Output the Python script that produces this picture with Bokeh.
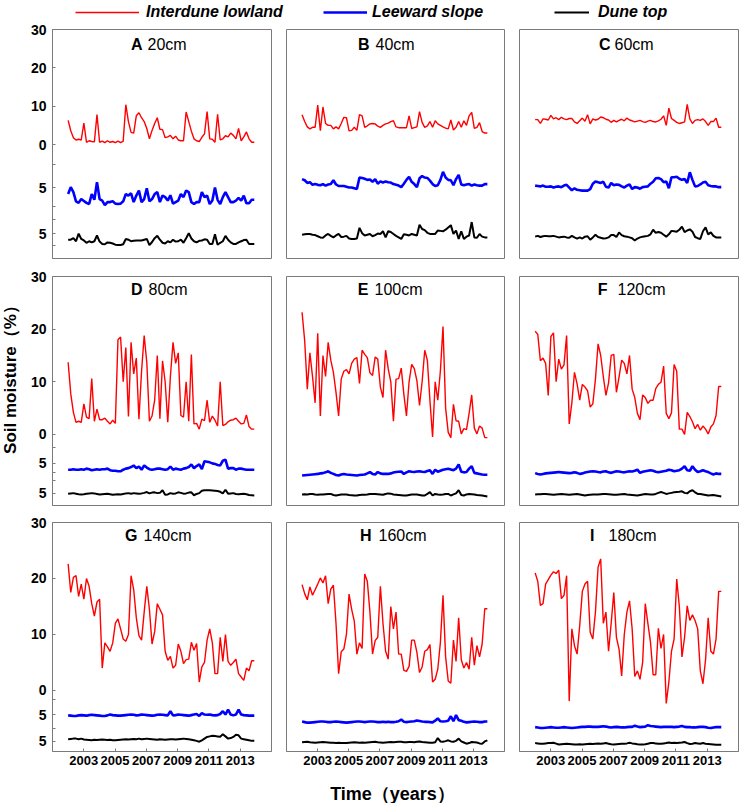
import numpy as np
from bokeh.plotting import figure
from bokeh.models import (Range1d, FixedTicker, CustomJSTickFormatter, Label,
                          Legend, LegendItem)
from bokeh.layouts import row, column
from bokeh.embed import file_html
from bokeh.resources import INLINE

# ---------------- data ----------------
first_year, last_year = 2002.0, 2013.9
year_ticks = [2003, 2005, 2007, 2009, 2011, 2013]
series_names = ["Interdune lowland", "Leeward slope", "Dune top"]
panel_letters = ["A", "B", "C", "D", "E", "F", "G", "H", "I"]
panel_depths = ["20cm", "40cm", "60cm", "80cm", "100cm", "120cm", "140cm", "160cm", "180cm"]

red_20 = [6.3, 3.6, 1.8, 1.2, 1.4, 1.2, 5.6, 0.6, 1.0, 0.8, 0.7, 7.8, 0.6, 0.9, 0.5, 1.0, 0.6, 0.8,
          0.5, 0.9, 0.5, 0.9, 10.4, 6.0, 3.2, 3.0, 7.5, 8.3, 7.0, 6.0, 4.2, 1.5, 3.7, 5.5, 7.0, 4.0,
          3.9, 1.8, 2.0, 2.4, 1.5, 2.2, 1.2, 1.0, 1.0, 8.5, 6.0, 3.5, 1.5, 1.0, 0.8, 1.9, 2.8, 8.6,
          1.5, 1.4, 0.6, 7.9, 1.2, 1.5, 2.3, 2.0, 3.0, 2.4, 1.5, 4.2, 1.0, 2.0, 3.3, 1.5, 0.6, 0.6]
blue_20 = [3.3, 5.1, 3.8, 1.4, 1.0, 2.0, 1.5, 1.0, 0.7, 3.3, 1.8, 6.4, 2.0, 1.6, 0.4, 1.2, 1.2, 1.4,
           0.8, 0.7, 0.8, 1.4, 3.3, 2.9, 3.5, 1.2, 2.9, 4.2, 1.2, 2.0, 4.8, 1.4, 2.0, 3.3, 3.8, 1.2,
           2.9, 2.5, 1.6, 3.0, 0.8, 1.2, 1.6, 3.3, 2.5, 4.2, 3.8, 1.2, 0.7, 1.2, 1.2, 3.8, 2.5, 2.9,
           0.7, 1.6, 5.0, 1.8, 0.7, 2.5, 3.8, 2.5, 1.2, 1.2, 1.6, 2.3, 1.6, 2.9, 0.9, 0.9, 1.8, 1.8]
black_20 = [3.4, 3.4, 3.8, 3.0, 5.0, 3.6, 3.2, 2.6, 3.0, 2.7, 3.0, 4.5, 2.9, 2.3, 2.2, 2.7, 2.6, 2.4,
            2.1, 2.0, 2.0, 2.2, 3.6, 3.4, 3.0, 3.1, 3.2, 3.2, 3.2, 3.4, 3.6, 2.0, 2.8, 3.8, 4.4, 3.4,
            2.6, 2.4, 3.0, 2.7, 3.4, 2.9, 3.0, 3.4, 2.6, 3.8, 5.1, 3.7, 3.0, 2.7, 3.1, 3.2, 3.5, 3.4,
            2.3, 2.3, 4.8, 2.1, 2.6, 3.0, 4.4, 3.4, 2.7, 2.3, 2.3, 2.7, 3.0, 3.3, 3.4, 2.3, 2.3, 2.3]

red_40 = [7.8, 6.0, 4.6, 4.1, 4.5, 4.5, 10.3, 3.6, 9.8, 5.5, 5.0, 5.0, 4.1, 4.6, 4.1, 5.5, 7.1, 7.0,
          3.6, 3.7, 4.5, 3.7, 7.8, 7.5, 4.5, 4.9, 5.4, 5.5, 5.4, 4.8, 4.5, 5.0, 5.4, 5.6, 6.0, 6.2,
          4.6, 4.4, 4.4, 4.4, 4.4, 7.5, 4.2, 4.4, 4.6, 8.6, 5.8, 4.5, 4.9, 6.0, 4.5, 6.2, 5.4, 5.0,
          4.6, 4.3, 4.1, 6.4, 3.8, 4.5, 6.0, 4.5, 6.2, 5.0, 7.5, 8.4, 4.2, 4.5, 5.7, 3.4, 3.0, 3.0]
blue_40 = [7.2, 6.9, 6.2, 6.4, 5.7, 5.9, 5.7, 5.6, 5.9, 5.5, 5.8, 5.9, 6.9, 5.8, 5.4, 5.4, 5.4, 5.2,
           5.0, 5.0, 4.8, 4.6, 7.6, 7.5, 7.3, 7.0, 7.1, 6.5, 7.2, 6.0, 6.6, 6.3, 6.6, 6.4, 6.3, 5.9,
           5.7, 5.5, 5.1, 6.0, 7.0, 7.8, 6.5, 5.9, 5.1, 7.4, 8.0, 7.6, 7.5, 6.8, 5.9, 5.4, 5.6, 7.0,
           9.1, 7.6, 7.0, 6.9, 5.6, 7.2, 8.3, 5.8, 5.6, 5.8, 5.9, 5.5, 5.8, 5.6, 5.5, 5.5, 5.9, 5.9]
black_40 = [4.7, 4.8, 4.9, 4.9, 4.7, 4.6, 4.3, 4.0, 3.9, 4.5, 4.9, 4.4, 4.0, 4.5, 4.9, 4.1, 4.2, 4.4,
            3.7, 3.6, 3.6, 3.7, 6.5, 5.1, 4.5, 4.7, 4.9, 4.3, 4.6, 5.0, 4.9, 5.6, 4.0, 5.6, 5.4, 4.9,
            4.4, 4.0, 3.6, 4.8, 4.7, 4.5, 4.9, 4.7, 4.5, 7.3, 6.2, 5.9, 5.2, 4.9, 4.9, 4.9, 5.8, 5.7,
            5.6, 6.0, 6.6, 7.2, 4.9, 5.8, 3.6, 5.6, 3.6, 4.2, 4.5, 8.0, 4.0, 3.9, 4.9, 4.2, 4.0, 4.0]

red_60 = [6.5, 6.5, 5.5, 6.7, 6.6, 6.4, 7.6, 6.7, 7.0, 6.5, 7.1, 6.7, 6.5, 6.8, 6.8, 5.9, 5.5, 6.2,
          6.9, 6.1, 7.8, 5.4, 6.7, 6.4, 6.6, 7.2, 7.0, 6.6, 6.4, 5.8, 6.3, 5.9, 6.3, 6.6, 6.2, 6.9,
          6.4, 6.2, 5.9, 6.1, 6.3, 6.0, 5.8, 6.1, 6.3, 6.0, 5.9, 6.2, 6.6, 7.5, 5.0, 9.5, 6.8, 6.3,
          5.8, 5.5, 5.7, 5.9, 10.5, 6.7, 5.5, 6.3, 6.5, 6.3, 6.7, 6.0, 5.0, 6.0, 6.0, 6.9, 4.5, 4.5]
blue_60 = [5.5, 5.4, 5.3, 5.5, 5.2, 5.2, 5.3, 5.0, 5.2, 5.3, 5.1, 5.5, 5.7, 5.0, 4.3, 4.8, 4.4, 4.3,
           4.2, 4.2, 4.2, 4.6, 6.0, 6.6, 6.4, 6.2, 6.5, 5.2, 5.0, 6.2, 5.6, 5.8, 5.7, 5.3, 5.0, 5.5,
           5.8, 4.6, 5.1, 5.0, 4.7, 5.1, 5.2, 5.3, 6.0, 6.5, 7.4, 7.5, 7.2, 6.4, 6.6, 4.8, 7.7, 7.7,
           7.8, 7.3, 7.0, 7.2, 6.2, 9.0, 7.0, 5.3, 5.4, 5.8, 6.3, 6.5, 5.6, 5.4, 5.3, 5.3, 5.1, 5.1]
black_60 = [4.2, 4.4, 4.1, 4.3, 4.4, 4.3, 4.3, 4.4, 4.2, 4.0, 4.1, 4.2, 4.0, 3.9, 4.4, 4.0, 3.7, 4.0,
            3.7, 4.2, 4.3, 3.4, 4.0, 4.7, 4.1, 3.9, 3.7, 3.8, 4.0, 4.6, 4.6, 4.1, 5.3, 4.6, 4.3, 4.2,
            4.0, 3.8, 3.2, 3.7, 4.0, 4.2, 4.3, 4.4, 4.8, 6.0, 5.2, 5.4, 5.2, 4.7, 4.2, 4.8, 5.7, 5.6,
            5.5, 6.0, 6.8, 5.4, 5.8, 6.1, 5.5, 4.1, 3.8, 3.6, 5.6, 6.6, 4.8, 5.3, 4.4, 4.0, 4.0, 4.0]

red_80 = [13.7, 7.7, 4.2, 2.3, 2.5, 2.3, 5.8, 3.3, 3.0, 10.6, 2.5, 4.8, 2.8, 2.8, 3.1, 2.5, 2.0, 2.7,
          2.1, 18.0, 18.5, 10.0, 16.5, 3.4, 17.5, 11.5, 14.5, 2.9, 12.0, 18.8, 13.7, 2.5, 3.5, 6.5,
          15.0, 3.0, 14.0, 10.0, 2.3, 11.0, 17.5, 13.5, 15.5, 3.6, 3.3, 10.0, 2.5, 15.2, 2.0, 2.1,
          1.0, 2.9, 2.6, 6.5, 2.3, 3.5, 2.7, 1.6, 10.0, 1.7, 1.9, 2.4, 2.7, 2.8, 3.1, 2.5, 2.0, 2.1,
          3.7, 1.5, 1.0, 1.0]
blue_80 = [3.8, 3.8, 3.9, 3.8, 3.8, 3.9, 3.8, 4.0, 3.9, 3.7, 3.8, 3.9, 3.8, 3.9, 3.9, 4.0, 3.7, 3.6,
           3.6, 3.5, 3.5, 3.8, 4.0, 4.1, 4.3, 4.6, 4.1, 4.4, 3.8, 4.6, 4.2, 3.9, 3.8, 3.9, 4.0, 4.0,
           3.9, 3.8, 3.9, 4.4, 3.8, 4.0, 3.9, 3.8, 4.0, 4.1, 4.3, 4.8, 4.1, 4.5, 4.8, 3.9, 5.4, 5.3,
           5.2, 5.0, 4.9, 4.7, 4.6, 5.5, 5.7, 4.0, 4.1, 4.1, 3.8, 4.0, 4.0, 3.9, 3.8, 3.8, 3.8, 3.8]
black_80 = [4.95, 5.0, 5.05, 4.95, 4.85, 4.8, 4.85, 4.95, 5.0, 5.05, 5.0, 4.9, 4.8, 4.85, 4.9, 4.95,
            4.85, 4.75, 4.8, 4.85, 4.8, 4.9, 5.0, 5.05, 4.95, 5.05, 5.0, 4.95, 5.0, 5.1, 5.25, 5.0,
            5.15, 5.2, 5.05, 5.1, 5.6, 4.75, 4.8, 5.05, 4.95, 5.0, 5.2, 5.1, 4.95, 5.0, 5.15, 5.2,
            4.65, 4.9, 5.05, 5.5, 5.6, 5.6, 5.6, 5.55, 5.5, 5.45, 5.3, 5.0, 5.7, 4.95, 5.0, 5.05,
            4.9, 4.85, 4.9, 4.95, 4.85, 4.7, 4.65, 4.6]

red_100 = [23.2, 17.8, 8.6, 15.5, 11.0, 6.0, 19.2, 3.5, 15.0, 11.0, 17.5, 14.1, 11.8, 8.0, 3.5, 10.5,
           12.0, 12.3, 11.5, 13.5, 14.3, 14.6, 9.7, 16.0, 15.2, 14.6, 11.7, 11.2, 14.7, 14.3, 9.0,
           7.0, 16.0, 12.5, 10.0, 2.5, 10.5, 10.6, 12.6, 7.6, 3.5, 10.0, 13.3, 12.5, 10.2, 5.5, 10.0,
           16.0, 14.1, 6.4, -0.5, 10.0, 6.5, 12.1, 20.5, 5.0, 0.4, -0.6, 5.7, 2.6, 2.5, 0.1, 1.1,
           0.9, 4.0, 7.5, 1.2, 0.1, 1.6, 1.2, -0.6, -0.6]
blue_100 = [2.7, 2.75, 2.8, 2.85, 2.9, 2.95, 3.0, 3.1, 3.15, 3.3, 3.5, 3.2, 3.0, 2.8, 2.7, 2.9, 3.0,
            2.9, 2.85, 2.8, 2.75, 2.7, 2.8, 2.85, 2.9, 3.1, 3.35, 3.0, 2.9, 3.35, 3.1, 3.0, 3.0, 3.0,
            3.1, 3.25, 3.35, 3.4, 3.45, 3.0, 3.3, 3.5, 3.4, 3.35, 3.45, 3.5, 3.4, 3.35, 3.55, 3.7,
            3.0, 3.8, 3.4, 3.6, 3.8, 3.9, 4.0, 3.85, 3.7, 4.0, 4.8, 3.4, 3.3, 3.35, 4.0, 4.45, 3.2,
            3.1, 3.0, 2.9, 2.85, 2.85]
black_100 = [4.8, 4.85, 4.8, 4.9, 4.9, 4.8, 4.75, 4.8, 4.8, 4.85, 4.9, 4.9, 4.7, 4.6, 4.7, 4.8, 4.8,
             4.8, 4.7, 4.65, 4.6, 4.6, 4.7, 4.75, 4.75, 4.8, 4.9, 4.9, 4.9, 4.85, 4.8, 4.75, 4.9,
             5.0, 4.95, 4.8, 4.75, 4.7, 4.65, 4.6, 4.6, 4.7, 4.8, 4.8, 4.8, 4.7, 4.6, 4.6, 4.9,
             5.25, 4.6, 4.9, 4.8, 4.75, 4.8, 4.9, 4.9, 4.6, 4.8, 5.0, 5.6, 4.7, 4.6, 4.8, 4.9, 4.85,
             4.8, 4.7, 4.65, 4.6, 4.5, 4.4]

red_120 = [19.6, 19.0, 14.0, 14.5, 13.5, 7.4, 18.6, 19.3, 10.0, 14.3, 12.4, 13.2, 18.8, 2.0, 6.0,
           11.8, 9.6, 6.5, 9.5, 9.0, 8.3, 5.2, 5.8, 10.5, 17.2, 15.0, 11.0, 7.4, 9.8, 15.0, 15.2,
           8.0, 10.9, 14.1, 13.5, 11.5, 15.0, 8.6, 7.0, 4.0, 2.8, 7.5, 7.0, 5.9, 6.5, 6.5, 8.7, 9.5,
           9.9, 13.0, 4.0, 3.0, 4.1, 13.3, 12.0, 1.0, 1.0, 0.0, 4.2, 3.4, 2.4, 1.1, 1.9, 0.8, 1.6,
           1.0, 0.1, 1.4, 2.0, 3.6, 9.1, 9.1]
blue_120 = [3.15, 3.0, 2.9, 3.0, 3.1, 3.15, 3.2, 3.25, 3.3, 3.35, 3.3, 3.25, 3.2, 3.15, 3.2, 3.3,
            3.2, 3.0, 3.1, 3.25, 3.35, 3.45, 3.5, 3.45, 3.35, 3.3, 3.45, 3.5, 3.3, 3.2, 3.35, 3.5,
            3.45, 3.35, 3.3, 3.4, 3.5, 3.45, 3.6, 3.8, 3.2, 3.4, 3.5, 3.6, 3.7, 3.6, 3.4, 3.3, 3.4,
            3.5, 3.6, 3.8, 3.7, 3.5, 3.6, 3.7, 4.0, 4.45, 3.7, 3.6, 4.45, 3.8, 3.35, 3.5, 3.7, 3.5,
            3.35, 3.1, 2.9, 3.1, 3.0, 3.0]
black_120 = [4.8, 4.85, 4.85, 4.9, 4.9, 4.85, 4.8, 4.75, 4.8, 4.85, 4.9, 4.85, 4.8, 4.75, 4.8, 4.85,
             4.9, 4.8, 4.7, 4.6, 4.7, 4.75, 4.8, 4.8, 4.8, 4.85, 4.9, 4.9, 4.85, 4.8, 4.75, 4.75,
             4.8, 4.85, 4.9, 4.8, 4.75, 4.7, 4.65, 4.6, 4.7, 4.8, 4.9, 4.85, 4.8, 4.8, 4.9, 5.1,
             5.25, 5.1, 4.9, 5.0, 5.1, 5.2, 5.25, 5.3, 5.4, 5.1, 5.0, 5.4, 5.6, 5.2, 4.9, 4.9, 4.8,
             4.7, 4.6, 4.65, 4.7, 4.6, 4.5, 4.4]

red_140 = [22.6, 17.5, 20.2, 20.5, 16.8, 19.0, 16.3, 20.0, 18.6, 15.5, 13.3, 15.8, 16.3, 4.0, 8.5,
           7.8, 7.0, 8.5, 12.0, 12.8, 11.0, 9.2, 8.8, 10.0, 20.5, 18.0, 13.0, 9.8, 9.0, 14.0, 18.6,
           14.5, 8.3, 10.5, 15.5, 14.5, 13.5, 7.0, 5.4, 6.1, 4.0, 4.5, 8.3, 7.0, 4.8, 5.5, 5.6, 8.6,
           7.2, 8.4, 1.5, 4.2, 5.0, 9.0, 11.0, 8.5, 3.0, 3.0, 9.5, 5.2, 10.0, 5.2, 4.5, 5.0, 5.6,
           3.0, 2.4, 1.8, 4.0, 3.5, 5.3, 5.3]
blue_140 = [4.85, 4.8, 4.75, 4.75, 4.85, 4.9, 4.85, 4.8, 4.9, 4.95, 4.9, 4.85, 4.8, 4.75, 4.75, 4.85,
            5.0, 4.9, 4.85, 4.8, 4.8, 4.85, 4.9, 4.95, 5.0, 4.95, 4.85, 4.9, 5.0, 4.95, 4.9, 4.85,
            4.8, 4.85, 4.95, 5.0, 4.95, 4.9, 4.85, 5.6, 4.85, 4.9, 5.0, 4.95, 4.9, 4.85, 4.8, 4.9,
            5.0, 5.1, 4.75, 5.25, 5.0, 4.95, 5.0, 4.9, 4.85, 4.9, 5.1, 5.6, 5.0, 5.9, 5.0, 4.85,
            5.0, 5.9, 5.0, 4.9, 4.85, 4.8, 4.8, 4.8]
black_140 = [5.4, 5.45, 5.5, 5.5, 5.4, 5.5, 5.35, 5.3, 5.25, 5.2, 5.3, 5.25, 5.3, 5.35, 5.3, 5.25,
             5.3, 5.2, 5.2, 5.25, 5.3, 5.35, 5.4, 5.35, 5.4, 5.45, 5.4, 5.5, 5.4, 5.45, 5.5, 5.45,
             5.4, 5.35, 5.3, 5.4, 5.35, 5.3, 5.35, 5.4, 5.4, 5.35, 5.4, 5.45, 5.5, 5.45, 5.4, 5.3,
             5.2, 5.1, 4.95, 5.2, 5.5, 5.8, 5.9, 6.0, 5.95, 5.9, 5.85, 6.3, 5.9, 5.5, 5.6, 5.8, 6.2,
             6.1, 5.5, 5.4, 5.3, 5.2, 5.1, 5.1]

red_160 = [18.9, 17.3, 16.2, 18.5, 17.0, 18.0, 19.0, 20.1, 19.2, 20.5, 15.5, 18.1, 18.8, 12.0, 3.0,
           6.9, 7.4, 10.0, 17.2, 14.5, 12.4, 6.5, 8.5, 7.5, 20.8, 19.5, 14.0, 6.5, 8.9, 9.5, 18.6,
           12.0, 7.0, 5.6, 15.0, 11.0, 14.0, 6.5, 6.5, 3.6, 3.4, 4.3, 9.0, 9.0, 6.8, 3.2, 4.2, 7.0,
           7.3, 8.2, 1.5, 2.0, 3.8, 8.6, 17.0, 6.0, 1.7, 1.3, 9.0, 5.2, 13.0, 5.5, 4.0, 5.0, 3.8,
           9.5, 4.5, 8.0, 6.0, 8.3, 14.6, 14.6]
blue_160 = [3.75, 3.65, 3.55, 3.55, 3.6, 3.65, 3.7, 3.75, 3.75, 3.7, 3.65, 3.65, 3.7, 3.75, 3.7,
            3.65, 3.6, 3.55, 3.6, 3.65, 3.7, 3.75, 3.75, 3.7, 3.65, 3.7, 3.75, 3.75, 3.7, 3.65,
            3.65, 3.7, 3.65, 3.7, 3.65, 3.65, 3.7, 3.8, 4.1, 3.7, 3.65, 3.7, 3.75, 3.8, 3.95, 3.85,
            3.75, 3.7, 3.7, 3.65, 3.6, 3.9, 4.3, 3.8, 3.75, 3.8, 3.9, 4.7, 3.8, 4.9, 4.0, 3.9, 3.7,
            3.6, 3.65, 3.7, 3.75, 3.7, 3.65, 3.65, 3.75, 3.75]
black_160 = [4.85, 4.9, 4.95, 4.85, 4.8, 4.75, 4.8, 4.85, 4.9, 4.85, 4.8, 4.75, 4.75, 4.7, 4.75,
             4.7, 4.7, 4.7, 4.75, 4.8, 4.85, 4.8, 4.75, 4.8, 4.75, 4.8, 4.85, 4.9, 4.95, 4.85, 4.8,
             4.75, 4.8, 4.85, 4.9, 4.85, 4.9, 4.95, 4.95, 4.85, 4.85, 4.9, 4.9, 4.85, 4.95, 5.0,
             4.9, 4.85, 4.8, 4.75, 4.75, 4.85, 5.6, 5.0, 4.95, 5.05, 5.2, 5.0, 4.95, 5.1, 5.5, 5.0,
             4.8, 4.6, 4.7, 4.9, 4.85, 4.8, 4.65, 4.6, 5.0, 5.2]

red_180 = [21.0, 19.5, 15.2, 15.5, 19.0, 19.8, 20.6, 21.2, 20.9, 21.5, 16.4, 17.0, 20.5, -1.9, 11.0,
           8.0, 6.5, 11.6, 17.7, 19.0, 19.5, 10.4, 9.2, 14.0, 22.0, 23.5, 12.0, 14.0, 7.0, 12.0,
           17.5, 9.5, 7.4, 2.6, 10.0, 14.0, 16.0, 11.0, 2.5, 3.5, 2.0, 5.0, 15.5, 12.0, 8.6, 2.8,
           2.8, 11.1, 7.5, 10.0, -2.3, 1.5, 7.0, 9.2, 19.9, 15.0, 6.0, 9.5, 15.1, 12.5, 13.5, 12.5,
           11.0, 3.5, 1.2, 5.5, 13.0, 7.0, 6.5, 9.2, 17.7, 17.7]
blue_180 = [2.75, 2.7, 2.6, 2.6, 2.65, 2.7, 2.75, 2.7, 2.65, 2.65, 2.7, 2.75, 2.7, 2.65, 2.6, 2.65,
            2.7, 2.75, 2.8, 2.8, 2.85, 2.85, 2.8, 2.8, 2.8, 2.85, 2.9, 2.85, 2.75, 2.7, 2.75, 2.8,
            2.75, 2.7, 2.7, 2.75, 2.8, 2.8, 3.0, 2.85, 2.75, 2.8, 2.85, 3.1, 2.95, 2.9, 2.85, 2.8,
            2.75, 2.8, 2.8, 2.8, 2.8, 2.75, 2.8, 2.85, 2.95, 2.8, 2.75, 2.75, 2.7, 2.7, 2.75, 2.8,
            2.8, 2.75, 2.65, 2.6, 2.7, 2.75, 2.75, 2.75]
black_180 = [4.7, 4.65, 4.6, 4.6, 4.65, 4.7, 4.7, 4.75, 4.6, 4.45, 4.5, 4.55, 4.6, 4.55, 4.5, 4.45,
             4.45, 4.5, 4.45, 4.5, 4.55, 4.6, 4.55, 4.6, 4.65, 4.6, 4.65, 4.7, 4.6, 4.5, 4.45, 4.5,
             4.55, 4.6, 4.6, 4.65, 4.75, 4.65, 4.6, 4.5, 4.45, 4.45, 4.5, 4.6, 4.7, 4.7, 4.65, 4.6,
             4.6, 4.65, 4.7, 4.8, 4.7, 4.75, 4.7, 4.75, 4.8, 4.9, 4.7, 4.55, 4.6, 4.7, 4.65, 4.6,
             4.7, 4.6, 4.55, 4.5, 4.45, 4.4, 4.4, 4.4]

red_series = [red_20, red_40, red_60, red_80, red_100, red_120, red_140, red_160, red_180]
blue_series = [blue_20, blue_40, blue_60, blue_80, blue_100, blue_120, blue_140, blue_160, blue_180]
black_series = [black_20, black_40, black_60, black_80, black_100, black_120, black_140, black_160, black_180]

# ---------------- styling / layout ----------------
RED, BLUE, BLACK = "#ff0000", "#0000ff", "#000000"
LINE_W = [1.4, 2.6, 2.0]
FRAME = "#7a7a7a"
FONT = "Liberation Sans"
FRAME_H = 229
LEGEND_STRIP_H = 21
LEGEND_ITEM_H = 18

# per-row: lower y limit, borders, figure height, positions of the two "5" labels,
# minor tick positions and title distance from the frame top (px)
ROWS = [
    dict(ylo=-29.7, t=8, b=9, h=246, b5=-11.2, k5=-23.2, minor=[-5.2, -16.2, -19.6, -26.4], tdy=15),
    dict(ylo=-13.5, t=9, b=8, h=246, b5=-5.5, k5=-11.2, minor=[-2.5, -7.2, -8.7], tdy=12.5),
    dict(ylo=-10.9, t=9, b=24, h=262, b5=-4.3, k5=-9.1, minor=[-1.6, -6.8], tdy=13),
]
COLS = [dict(l=32, r=7, w=258), dict(l=8, r=7, w=233), dict(l=8, r=2, w=229)]
# title: (right edge of letter, left edge of depth) from frame left, px
TITLE_POS = [(90, 95), (83, 89), (91, 95), (90, 96), (82, 88), (88, 98), (85, 91), (85, 92), (75, 89)]
# legend entries: (glyph x, glyph width, label standoff)
LEGEND_POS = [(75, 64, 7), (323, 44, 5), (554, 35, 9)]


def make_panel(k):
    ri, ci = divmod(k, 3)
    rs, cs = ROWS[ri], COLS[ci]
    ylo = rs["ylo"]
    p = figure(width=cs["w"], height=rs["h"],
               x_range=Range1d(2001, 2015), y_range=Range1d(ylo, 30),
               x_axis_location="below" if ri == 2 else None,
               y_axis_location="left" if ci == 0 else None,
               min_border_left=cs["l"], min_border_right=cs["r"],
               min_border_top=rs["t"], min_border_bottom=rs["b"],
               toolbar_location=None, output_backend="svg")
    p.xgrid.visible = False
    p.ygrid.visible = False
    p.outline_line_color = FRAME
    p.outline_line_width = 1
    p.background_fill_color = "white"
    p.border_fill_color = "white"

    off_b = rs["b5"] - 5
    off_k = rs["k5"] - 5
    p.extra_y_ranges = {
        "blue": Range1d(ylo - off_b, 30 - off_b),
        "black": Range1d(ylo - off_k, 30 - off_k),
    }

    r = red_series[k]
    b = blue_series[k]
    d = black_series[k]
    p.line(np.linspace(first_year, last_year, len(r)), r, line_color=RED, line_width=LINE_W[0])
    p.line(np.linspace(first_year, last_year, len(b)), b, y_range_name="blue",
           line_color=BLUE, line_width=LINE_W[1])
    p.line(np.linspace(first_year, last_year, len(d)), d, y_range_name="black",
           line_color=BLACK, line_width=LINE_W[2])

    if ci == 0:
        ax = p.yaxis[0]
        ax.ticker = FixedTicker(ticks=[30, 20, 10, 0, rs["b5"], rs["k5"]], minor_ticks=rs["minor"])
        ax.formatter = CustomJSTickFormatter(code="return tick >= 0 ? tick.toFixed(0) : '5';")
        ax.major_tick_in = 3
        ax.major_tick_out = 0
        ax.minor_tick_in = 3
        ax.minor_tick_out = 0
        ax.axis_line_color = FRAME
        ax.major_tick_line_color = FRAME
        ax.minor_tick_line_color = FRAME
        ax.major_label_standoff = 6
        ax.major_label_text_font = FONT
        ax.major_label_text_font_style = "bold"
        ax.major_label_text_font_size = "14px"
        ax.major_label_text_color = "black"
    if ri == 2:
        ax = p.xaxis[0]
        ax.ticker = FixedTicker(ticks=year_ticks)
        ax.major_tick_in = 3
        ax.major_tick_out = 0
        ax.minor_tick_line_color = None
        ax.axis_line_color = FRAME
        ax.major_tick_line_color = FRAME
        ax.major_label_standoff = 4
        ax.major_label_text_font = FONT
        ax.major_label_text_font_style = "bold"
        ax.major_label_text_font_size = "13px"
        ax.major_label_text_color = "black"

    ppu = FRAME_H / (30 - ylo)
    ty = 30 - rs["tdy"] / ppu
    lx, nx = TITLE_POS[k]
    p.add_layout(Label(x=2001, y=ty, x_offset=lx, text=panel_letters[k], text_align="right",
                       text_baseline="middle", text_font=FONT, text_font_style="bold",
                       text_font_size="16px", text_color="black"))
    p.add_layout(Label(x=2001, y=ty, x_offset=nx, text=panel_depths[k], text_align="left",
                       text_baseline="middle", text_font=FONT, text_font_size="16px",
                       text_color="black"))
    return p


def blank(w, h):
    f = figure(width=w, height=h, x_range=Range1d(0, w), y_range=Range1d(0, h),
               x_axis_location=None, y_axis_location=None, min_border=0,
               toolbar_location=None, output_backend="svg")
    f.xgrid.visible = False
    f.ygrid.visible = False
    f.outline_line_color = None
    return f


# legend strip on top: hidden proxy lines of the first panel provide the legend keys
leg = blank(740, LEGEND_STRIP_H)
proxy_data = [red_20, blue_20, black_20]
for si, (col, (gx, gw, so)) in enumerate(zip([RED, BLUE, BLACK], LEGEND_POS)):
    vals = proxy_data[si]
    rend = leg.line(np.linspace(first_year, last_year, len(vals)), vals,
                    line_color=col, line_width=LINE_W[si], visible=False)
    lg = Legend(items=[LegendItem(label=series_names[si], renderers=[rend])],
                location=(gx, 0), glyph_width=gw, glyph_height=LEGEND_ITEM_H,
                label_height=LEGEND_ITEM_H, label_standoff=so, padding=0, margin=0, spacing=0,
                border_line_color=None, background_fill_alpha=0, inactive_fill_alpha=0,
                label_text_font=FONT, label_text_font_style="bold italic",
                label_text_font_size="16px", label_text_color="black")
    leg.add_layout(lg)

rows_h = sum(r["h"] for r in ROWS)

# y-axis title strip (left of the grid); centre at page y=375
ylab = blank(20, rows_h)
ylab.add_layout(Label(x=10, y=rows_h - (375 - LEGEND_STRIP_H), text="Soil moisture（%）",
                      angle=np.pi / 2, text_align="center", text_baseline="middle",
                      text_font=FONT, text_font_style="bold", text_font_size="17px",
                      text_color="black"))

# x-axis title strip (below the grid)
xlab = blank(740, 28)
xlab.add_layout(Label(x=392, y=10, text="Time（years）", text_align="center",
                      text_baseline="middle", text_font=FONT, text_font_style="bold",
                      text_font_size="18px", text_color="black"))

panels = [make_panel(k) for k in range(9)]
grid = column(row(*panels[0:3]), row(*panels[3:6]), row(*panels[6:9]))
layout = column(leg, row(ylab, grid), xlab)

open("out.html", "w").write(file_html(layout, INLINE))
